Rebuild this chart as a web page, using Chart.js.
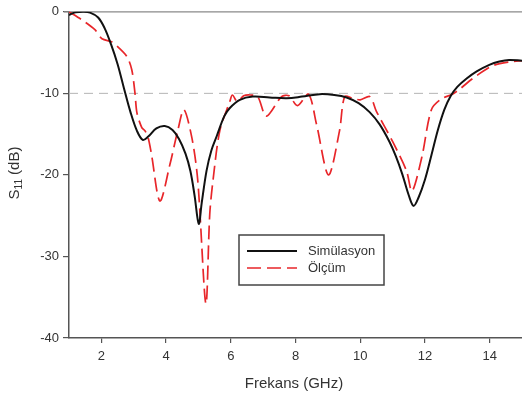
<!DOCTYPE html>
<html>
<head>
<meta charset="utf-8">
<script src="https://cdn.jsdelivr.net/npm/chart.js@4.4.1/dist/chart.umd.min.js"></script>
<style>
  body { margin: 0; background: #fff; }
  canvas { display: block; }
</style>
</head>
<body>
<canvas id="s11Chart" width="522" height="394"></canvas>
<script>
// S11 data (GHz / dB)
const simFreq = [1.0, 1.2, 1.43, 1.65, 1.9, 2.1, 2.3, 2.5, 2.7, 2.9, 3.1, 3.28, 3.45, 3.7, 3.96, 4.2, 4.4, 4.6, 4.75, 4.88, 5.01, 5.1, 5.25, 5.4, 5.57, 5.8, 5.97, 6.28, 6.68, 7.2, 7.73, 8.2, 8.75, 9.2, 9.58, 9.95, 10.29, 10.6, 10.9, 11.1, 11.3, 11.5, 11.65, 11.8, 12.0, 12.2, 12.4, 12.6, 12.8, 13.0, 13.28, 13.6, 13.99, 14.3, 14.6, 15.0];
const simS11 = [-0.4, -0.05, 0, -0.1, -0.7, -2.0, -4.0, -6.4, -9.4, -12.3, -14.6, -15.7, -15.3, -14.3, -14.0, -14.5, -15.6, -17.4, -19.5, -22.5, -26.0, -23.5, -19.5, -17.0, -15.2, -12.8, -11.8, -10.8, -10.4, -10.5, -10.6, -10.4, -10.1, -10.2, -10.5, -11.2, -12.3, -13.8, -15.9, -17.7, -19.9, -22.5, -23.8, -22.8, -20.6, -17.6, -14.5, -12.0, -10.3, -9.2, -8.2, -7.3, -6.5, -6.1, -5.9, -6.0];

const measFreq = [1.0, 1.4, 1.8, 2.02, 2.33, 2.51, 2.79, 2.94, 3.04, 3.1, 3.25, 3.35, 3.45, 3.55, 3.81, 4.12, 4.36, 4.55, 4.8, 4.98, 5.23, 5.35, 5.45, 5.66, 5.97, 6.05, 6.2, 6.4, 6.6, 6.83, 7.1, 7.57, 7.8, 8.06, 8.4, 8.65, 9.02, 9.36, 9.52, 9.77, 10.0, 10.3, 10.5, 11.0, 11.43, 11.6, 11.9, 12.2, 12.5, 12.85, 13.07, 13.47, 14.1, 14.7, 15.0];
const measS11 = [0, -1.0, -2.2, -3.3, -3.7, -4.3, -5.5, -7.1, -10, -12.4, -14.2, -14.6, -15.5, -17.5, -23.2, -18.7, -14.6, -12, -15.5, -20.7, -35.8, -24.8, -20.7, -14.6, -11, -10.2, -11, -10.3, -10.2, -10.4, -12.8, -10.4, -10.3, -11.5, -10.1, -13.8, -20.0, -14.6, -10.4, -10.6, -10.8, -10.4, -12.2, -15.9, -19.5, -22, -17.9, -12.0, -10.7, -10.1, -9.5, -8.2, -6.6, -6.1, -6.0];

const xTicks = [2, 4, 6, 8, 10, 12, 14];
const refLevel = -10;

const toPoints = (xs, ys) => xs.map((x, i) => ({ x, y: ys[i] }));

const extras = {
  id: 'extras',
  beforeDatasetsDraw(chart) {
    const { ctx, chartArea: a, scales: { y } } = chart;
    const yRef = y.getPixelForValue(refLevel);
    ctx.save();
    ctx.strokeStyle = '#b4b4b4';
    ctx.lineWidth = 1;
    ctx.setLineDash([9, 6]);
    ctx.beginPath();
    ctx.moveTo(a.left, yRef);
    ctx.lineTo(a.right, yRef);
    ctx.stroke();
    ctx.setLineDash([]);
    // top frame line
    ctx.strokeStyle = '#8a8a8a';
    ctx.lineWidth = 1.2;
    ctx.beginPath();
    ctx.moveTo(a.left - 5, a.top);
    ctx.lineTo(a.right, a.top);
    ctx.stroke();
    ctx.restore();
  },
  afterDraw(chart) {
    const { ctx } = chart;
    ctx.save();
    ctx.fillStyle = '#333';
    ctx.textBaseline = 'middle';

    // x title
    ctx.font = '15px "Liberation Sans", Arial, sans-serif';
    ctx.textAlign = 'center';
    ctx.fillText('Frekans (GHz)', 294, 384);

    // y title with subscript
    ctx.translate(15, 173);
    ctx.rotate(-Math.PI / 2);
    const big = '15px "Liberation Sans", Arial, sans-serif';
    const small = '10px "Liberation Sans", Arial, sans-serif';
    ctx.font = big;
    const wS = ctx.measureText('S').width;
    const wT = ctx.measureText(' (dB)').width;
    ctx.font = small;
    const w11 = ctx.measureText('11').width;
    const x0 = -(wS + w11 + wT) / 2;
    ctx.textAlign = 'left';
    ctx.font = big;
    ctx.fillText('S', x0, 0);
    ctx.font = small;
    ctx.fillText('11', x0 + wS, 4);
    ctx.font = big;
    ctx.fillText(' (dB)', x0 + wS + w11, 0);
    ctx.restore();

    // legend box
    ctx.save();
    const bx = 239, by = 235, bw = 145, bh = 50;
    ctx.strokeStyle = '#444';
    ctx.lineWidth = 1.5;
    ctx.strokeRect(bx, by, bw, bh);
    chart.data.datasets.forEach((ds, i) => {
      const ly = 251 + i * 17;
      ctx.strokeStyle = ds.borderColor;
      ctx.lineWidth = ds.borderWidth;
      ctx.setLineDash(ds.borderDash || []);
      ctx.beginPath();
      ctx.moveTo(247, ly);
      ctx.lineTo(297, ly);
      ctx.stroke();
      ctx.setLineDash([]);
      ctx.fillStyle = '#333';
      ctx.font = '13px "Liberation Sans", Arial, sans-serif';
      ctx.textAlign = 'left';
      ctx.textBaseline = 'middle';
      ctx.fillText(ds.label, 308, ly);
    });
    ctx.restore();
  }
};

new Chart(document.getElementById('s11Chart'), {
  type: 'line',
  data: {
    datasets: [{
      label: 'Simülasyon',
      data: toPoints(simFreq, simS11),
      borderColor: '#111',
      borderWidth: 2,
      pointRadius: 0,
      tension: 0.35,
      fill: false
    }, {
      label: 'Ölçüm',
      data: toPoints(measFreq, measS11),
      borderColor: '#e8262a',
      borderWidth: 1.7,
      borderDash: [14, 6],
      pointRadius: 0,
      tension: 0.3,
      fill: false
    }]
  },
  options: {
    responsive: false,
    animation: false,
    layout: { padding: { top: 10, right: 0, left: 0, bottom: 0 } },
    plugins: { legend: { display: false }, tooltip: { enabled: false } },
    scales: {
      x: {
        type: 'linear',
        min: 1,
        max: 15,
        afterBuildTicks: s => { s.ticks = xTicks.map(v => ({ value: v })); },
        afterFit: s => { s.height = 56; },
        grid: { drawOnChartArea: false, drawTicks: true, tickLength: 5, color: '#555', lineWidth: 1.2 },
        border: { display: true, color: '#555', width: 1.5 },
        ticks: { color: '#333', font: { size: 13, family: '"Liberation Sans", Arial, sans-serif' }, padding: 6, maxRotation: 0 }
      },
      y: {
        min: -40,
        max: 0,
        afterFit: s => { s.width = 69; },
        grid: { drawOnChartArea: false, drawTicks: true, tickLength: 6, color: '#555', lineWidth: 1.2 },
        border: { display: true, color: '#555', width: 1.5 },
        ticks: { stepSize: 10, color: '#333', font: { size: 13, family: '"Liberation Sans", Arial, sans-serif' }, padding: 4 }
      }
    }
  },
  plugins: [extras]
});
</script>
</body>
</html>
